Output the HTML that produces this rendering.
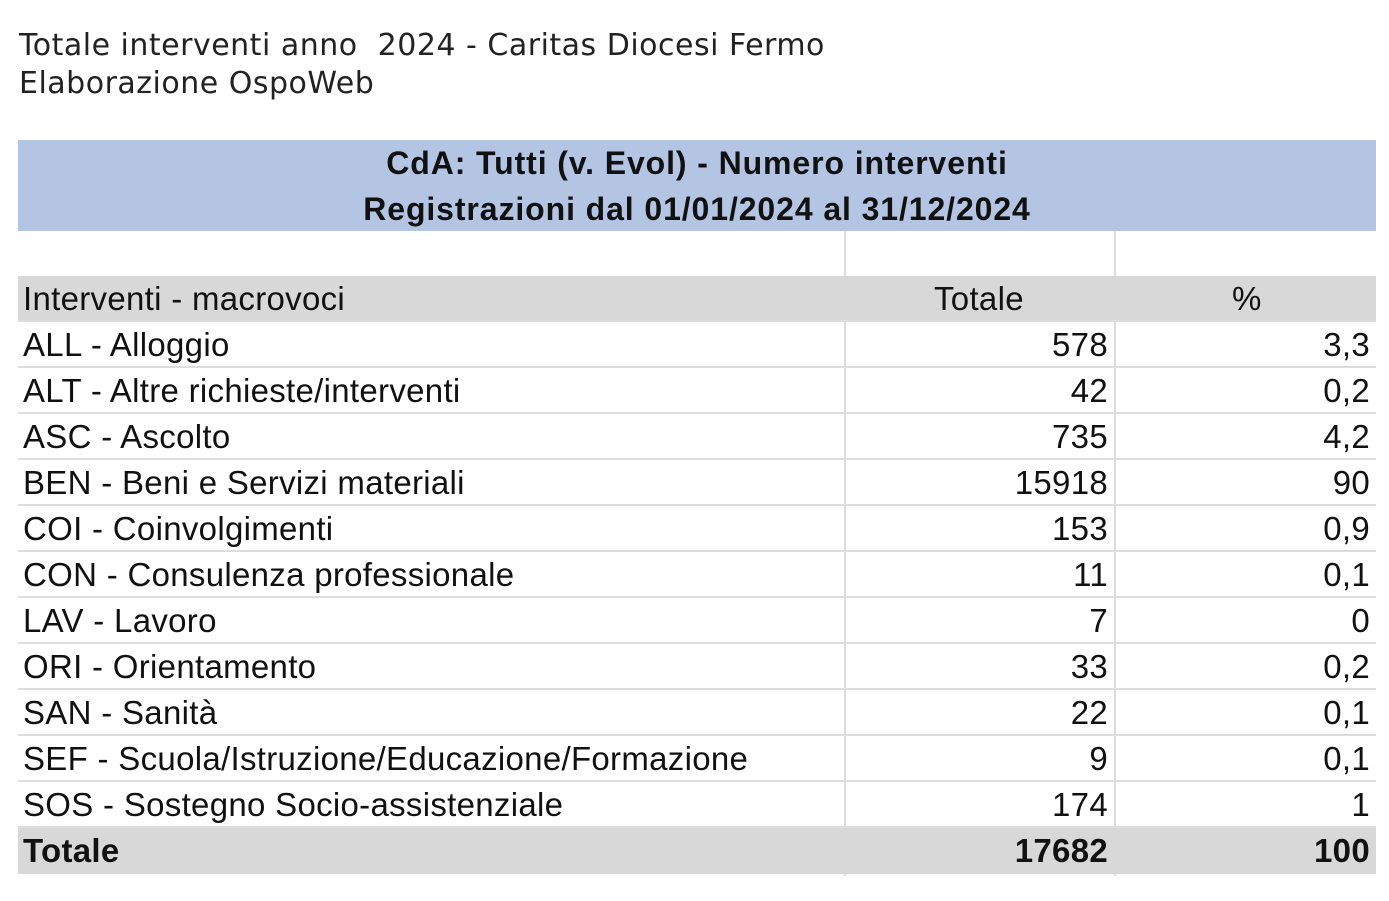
<!DOCTYPE html>
<html><head><meta charset="utf-8"><style>
body{margin:0;width:1389px;height:901px;background:#fff;position:relative;overflow:hidden;font-family:"Liberation Sans",sans-serif;color:#111}
.t{position:absolute;left:19px;font-family:"DejaVu Sans",sans-serif;font-size:30px;letter-spacing:0.5px;color:#222;white-space:nowrap}
.band{position:absolute;left:18px;width:1358px;top:140px;height:91px;background:#b4c5e4}
.band div{position:absolute;left:0;width:100%;text-align:center;font-weight:bold;font-size:32px;letter-spacing:0.9px}
.row{position:absolute;left:18px;width:1358px;height:46px;border-bottom:2px solid #ddd;box-sizing:border-box;font-size:33px;letter-spacing:0.3px}
.row span{position:absolute;top:4px;white-space:nowrap}
.a{left:5px}.b{right:268px}.c{right:6px}
.gray{background:#d8d8d8}
.vl{position:absolute;top:231px;height:645px;width:2px;background:#ddd}
</style></head><body>
<div class="t" style="top:28px">Totale interventi anno&nbsp; 2024 - Caritas Diocesi Fermo</div>
<div class="t" style="top:66px">Elaborazione OspoWeb</div>
<div class="band"><div style="top:5px">CdA: Tutti (v. Evol) - Numero interventi</div><div style="top:51px">Registrazioni dal 01/01/2024 al 31/12/2024</div></div>
<div class="vl" style="left:844px"></div><div class="vl" style="left:1114px"></div>
<div class="row gray" style="top:276px"><span class="a">Interventi - macrovoci</span><span style="left:916px">Totale</span><span style="left:1214px">%</span></div>
<div class="row" style="top:322px"><span class="a">ALL - Alloggio</span><span class="b">578</span><span class="c">3,3</span></div>
<div class="row" style="top:368px"><span class="a">ALT - Altre richieste/interventi</span><span class="b">42</span><span class="c">0,2</span></div>
<div class="row" style="top:414px"><span class="a">ASC - Ascolto</span><span class="b">735</span><span class="c">4,2</span></div>
<div class="row" style="top:460px"><span class="a">BEN - Beni e Servizi materiali</span><span class="b">15918</span><span class="c">90</span></div>
<div class="row" style="top:506px"><span class="a">COI - Coinvolgimenti</span><span class="b">153</span><span class="c">0,9</span></div>
<div class="row" style="top:552px"><span class="a">CON - Consulenza professionale</span><span class="b">11</span><span class="c">0,1</span></div>
<div class="row" style="top:598px"><span class="a">LAV - Lavoro</span><span class="b">7</span><span class="c">0</span></div>
<div class="row" style="top:644px"><span class="a">ORI - Orientamento</span><span class="b">33</span><span class="c">0,2</span></div>
<div class="row" style="top:690px"><span class="a">SAN - Sanità</span><span class="b">22</span><span class="c">0,1</span></div>
<div class="row" style="top:736px"><span class="a">SEF - Scuola/Istruzione/Educazione/Formazione</span><span class="b">9</span><span class="c">0,1</span></div>
<div class="row" style="top:782px"><span class="a">SOS - Sostegno Socio-assistenziale</span><span class="b">174</span><span class="c">1</span></div>
<div class="row gray" style="top:828px;font-weight:bold;border:none"><span class="a">Totale</span><span class="b">17682</span><span class="c">100</span></div>
</body></html>
